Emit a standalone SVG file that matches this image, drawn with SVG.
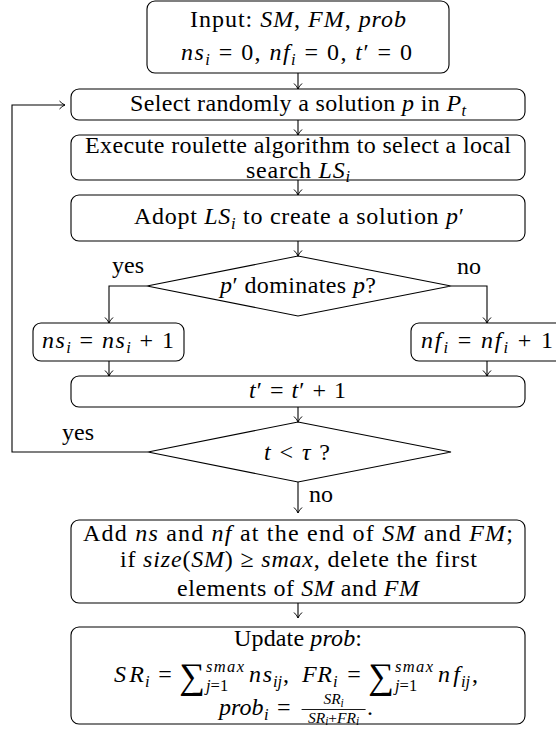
<svg xmlns="http://www.w3.org/2000/svg" width="556" height="730" viewBox="0 0 556 730">
<style>
.t{font-family:"Liberation Serif","DejaVu Serif","Times New Roman",serif;font-size:24px;fill:#000}
.i{font-style:italic}
.s{font-size:16.5px}
.f{font-size:15.5px}
.ss{font-size:11.5px}
.m{text-anchor:middle}
.sum{font-size:36px}
.box{fill:#fff;stroke:#000;stroke-width:1.1}
.edge{fill:none;stroke:#000;stroke-width:1.1}
</style>
<defs>
<marker id="arr" viewBox="-7 -5 8 10" refX="0" refY="0" markerWidth="8" markerHeight="10" markerUnits="userSpaceOnUse" orient="auto">
<path d="M-5.5,-4 C-3,-1.5 -1,-0.4 0,0 C-1,0.4 -3,1.5 -5.5,4" fill="none" stroke="#000" stroke-width="1"/>
</marker>
</defs>

<g id="n-input">
<rect class="box" x="147" y="1" width="302" height="72" rx="8"/>
<text class="t" x="190" y="27" textLength="216" lengthAdjust="spacing">Input: <tspan class="i">SM</tspan>, <tspan class="i">FM</tspan>, <tspan class="i">prob</tspan></text>
<text class="t" x="181" y="60" textLength="231" lengthAdjust="spacing"><tspan class="i">ns</tspan><tspan class="s i" dy="5">i</tspan><tspan dy="-5"> = 0, </tspan><tspan class="i">nf</tspan><tspan class="s i" dy="5">i</tspan><tspan dy="-5"> = 0, </tspan><tspan class="i">t</tspan>′ = 0</text>
</g>

<g id="n-select">
<rect class="box" x="71" y="89" width="454" height="31" rx="8"/>
<text class="t" x="130" y="111" textLength="336" lengthAdjust="spacing">Select randomly a solution <tspan class="i">p</tspan> in <tspan class="i">P</tspan><tspan class="s i" dy="5">t</tspan></text>
</g>

<g id="n-roulette">
<rect class="box" x="71" y="135" width="454" height="45" rx="8"/>
<text class="t" x="85" y="153" textLength="426" lengthAdjust="spacing">Execute roulette algorithm to select a local</text>
<text class="t" x="246" y="178" textLength="104" lengthAdjust="spacing">search <tspan class="i">LS</tspan><tspan class="s i" dy="4">i</tspan></text>
</g>

<g id="n-adopt">
<rect class="box" x="71" y="195" width="454" height="46" rx="8"/>
<text class="t" x="134" y="224" textLength="330" lengthAdjust="spacing">Adopt <tspan class="i">LS</tspan><tspan class="s i" dy="5">i</tspan><tspan dy="-5"> to create a solution </tspan><tspan class="i">p</tspan>′</text>
</g>

<g id="n-dominates">
<polygon class="box" points="298,256 451,286 298,316 147,286"/>
<text class="t" x="220" y="293" textLength="156" lengthAdjust="spacing"><tspan class="i">p</tspan>′ dominates <tspan class="i">p</tspan>?</text>
</g>

<g id="n-ns">
<rect class="box" x="33" y="323" width="151" height="38" rx="8"/>
<text class="t" x="42" y="348" textLength="132" lengthAdjust="spacing"><tspan class="i">ns</tspan><tspan class="s i" dy="5">i</tspan><tspan dy="-5"> = </tspan><tspan class="i">ns</tspan><tspan class="s i" dy="5">i</tspan><tspan dy="-5"> + 1</tspan></text>
</g>

<g id="n-nf">
<rect class="box" x="411" y="323" width="152" height="38" rx="8"/>
<text class="t" x="421" y="348" textLength="132" lengthAdjust="spacing"><tspan class="i">nf</tspan><tspan class="s i" dy="5">i</tspan><tspan dy="-5"> = </tspan><tspan class="i">nf</tspan><tspan class="s i" dy="5">i</tspan><tspan dy="-5"> + 1</tspan></text>
</g>

<g id="n-tinc">
<rect class="box" x="71" y="376" width="454" height="31" rx="8"/>
<text class="t" x="249" y="398" textLength="97" lengthAdjust="spacing"><tspan class="i">t</tspan>′ = <tspan class="i">t</tspan>′ + 1</text>
</g>

<g id="n-tcheck">
<polygon class="box" points="298,422 451,452 298,482 148,452"/>
<text class="t" x="264" y="460" textLength="66" lengthAdjust="spacing"><tspan class="i">t</tspan> &lt; <tspan class="i">τ</tspan> ?</text>
</g>

<g id="n-add">
<rect class="box" x="71" y="520" width="454" height="83" rx="8"/>
<text class="t" x="83" y="541" textLength="430" lengthAdjust="spacing">Add <tspan class="i">ns</tspan> and <tspan class="i">nf</tspan> at the end of <tspan class="i">SM</tspan> and <tspan class="i">FM</tspan>;</text>
<text class="t" x="120" y="567" textLength="357" lengthAdjust="spacing">if <tspan class="i">size</tspan>(<tspan class="i">SM</tspan>) ≥ <tspan class="i">smax</tspan>, delete the first</text>
<text class="t" x="177" y="596" textLength="242" lengthAdjust="spacing">elements of <tspan class="i">SM</tspan> and <tspan class="i">FM</tspan></text>
</g>

<g id="n-update">
<rect class="box" x="71" y="627" width="454" height="97" rx="8"/>
<text class="t" x="234" y="646" textLength="128" lengthAdjust="spacing">Update <tspan class="i">prob</tspan>:</text>
<text class="t i" x="114" y="682" textLength="30" lengthAdjust="spacing">SR</text>
<text class="t s i" x="145" y="687">i</text>
<text class="t m" x="165" y="682">=</text>
<text class="t m sum" x="192" y="688">∑</text>
<text class="t s i" x="206" y="672" textLength="38" lengthAdjust="spacing">smax</text>
<text class="t s" x="206" y="691"><tspan class="i">j</tspan>=1</text>
<text class="t i" x="249" y="682" textLength="23" lengthAdjust="spacing">ns</text>
<text class="t s i" x="273" y="687">ij</text>
<text class="t" x="283" y="682">,</text>
<text class="t i" x="302" y="682" textLength="30" lengthAdjust="spacing">FR</text>
<text class="t s i" x="333" y="687">i</text>
<text class="t m" x="354" y="682">=</text>
<text class="t m sum" x="381" y="688">∑</text>
<text class="t s i" x="395" y="672" textLength="38" lengthAdjust="spacing">smax</text>
<text class="t s" x="395" y="691"><tspan class="i">j</tspan>=1</text>
<text class="t i" x="438" y="682" textLength="22" lengthAdjust="spacing">nf</text>
<text class="t s i" x="461" y="687">ij</text>
<text class="t" x="472" y="682">,</text>
<text class="t i" x="219" y="715">prob</text>
<text class="t s i" x="264" y="720">i</text>
<text class="t m" x="283.8" y="715">=</text>
<line x1="301.6" y1="709.5" x2="365.6" y2="709.5" stroke="#000" stroke-width="0.9"/>
<text class="t f m" x="333.6" y="704"><tspan class="i">SR</tspan><tspan class="ss i" dy="2.5">i</tspan></text>
<text class="t f m" x="333.6" y="722.5"><tspan class="i">SR</tspan><tspan class="ss i" dy="2.5">i</tspan><tspan dy="-2.5">+</tspan><tspan class="i">FR</tspan><tspan class="ss i" dy="2.5">i</tspan></text>
<text class="t" x="367" y="715">.</text>
</g>

<g id="connectors">
<path class="edge" d="M298,73 V89" marker-end="url(#arr)"/>
<path class="edge" d="M298,120 V135" marker-end="url(#arr)"/>
<path class="edge" d="M298,180 V195" marker-end="url(#arr)"/>
<path class="edge" d="M298,241 V256" marker-end="url(#arr)"/>
<path class="edge" d="M147,286 H109 V323" marker-end="url(#arr)"/>
<path class="edge" d="M451,286 H487 V323" marker-end="url(#arr)"/>
<path class="edge" d="M109,361 V376" marker-end="url(#arr)"/>
<path class="edge" d="M487,361 V376" marker-end="url(#arr)"/>
<path class="edge" d="M298,407 V422" marker-end="url(#arr)"/>
<path class="edge" d="M148,452 H12 V105 H65" marker-end="url(#arr)"/>
<path class="edge" d="M298,482 V513" marker-end="url(#arr)"/>
<path class="edge" d="M298,603 V618" marker-end="url(#arr)"/>
<text class="t m" x="128" y="273">yes</text>
<text class="t m" x="469" y="274">no</text>
<text class="t m" x="78" y="440">yes</text>
<text class="t" x="309" y="502">no</text>
</g>
</svg>
